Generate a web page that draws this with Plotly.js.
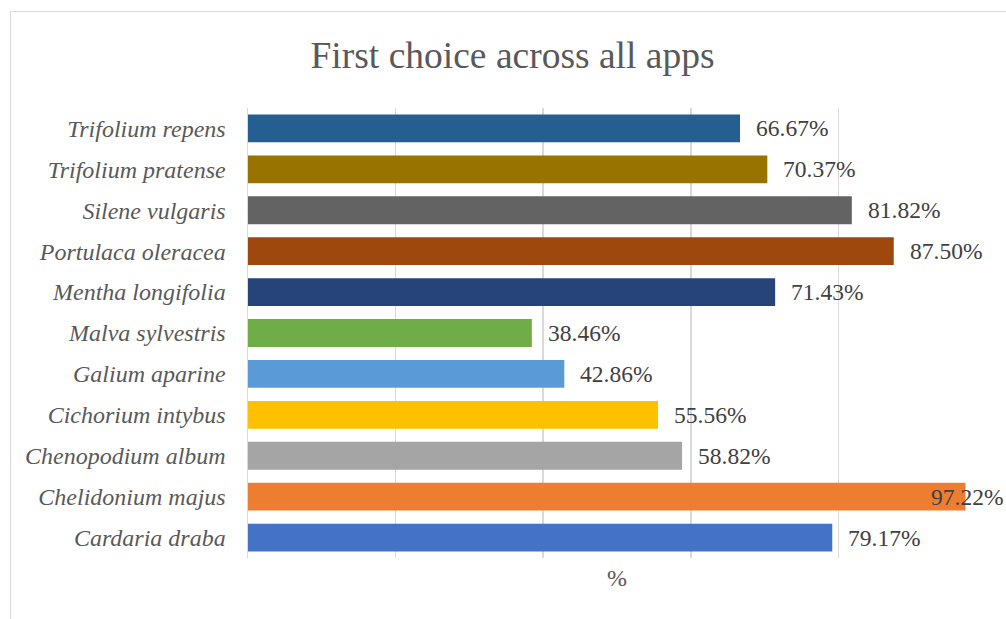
<!DOCTYPE html>
<html>
<head>
<meta charset="utf-8">
<script src="https://cdn.plot.ly/plotly-3.0.1.min.js"></script>
<style>
html,body{margin:0;padding:0;background:#fff;}
#wrap{position:relative;width:1006px;height:619px;overflow:hidden;}
#chart{width:1006px;height:619px;}
#border{position:absolute;left:10px;top:11px;width:1200px;height:800px;border:1.5px solid #d9d9d9;pointer-events:none;}
</style>
</head>
<body>
<div id="wrap"><div id="chart"></div><div id="border"></div></div>
<script>
const categories = ["Cardaria draba","Chelidonium majus","Chenopodium album","Cichorium intybus","Galium aparine","Malva sylvestris","Mentha longifolia","Portulaca oleracea","Silene vulgaris","Trifolium pratense","Trifolium repens"];
const values = [79.17, 97.22, 58.82, 55.56, 42.86, 38.46, 71.43, 87.50, 81.82, 70.37, 66.67];
const colors = ["#4472C4","#ED7D31","#A5A5A5","#FFC000","#5B9BD5","#70AD47","#264478","#9E480E","#636363","#997300","#255E91"];
const labels = values.map(v => v.toFixed(2) + "%");

const font = "Liberation Serif";
const trace = {
  type: "bar", orientation: "h",
  y: categories.map(c => "<i>" + c + "</i>"), x: values,
  marker: {color: colors},
  hoverinfo: "none"
};
const annotations = values.map((v, i) => {
  const fits = v < 90;
  return {
    x: v, y: "<i>" + categories[i] + "</i>", xref: "x", yref: "y",
    text: labels[i], showarrow: false,
    xanchor: fits ? "left" : "right", xshift: fits ? 14 : 40,
    font: {family: font, size: 23.5, color: "#404040"}
  };
});
const layout = {
  width: 1006, height: 619,
  margin: {l: 248, r: 20, t: 108, b: 61},
  paper_bgcolor: "#fff", plot_bgcolor: "#fff",
  bargap: 0.32,
  showlegend: false,
  title: {text: "First choice across all apps", font: {family: font, size: 37.5, color: "#595959"}, x: 0.5095, xanchor: "center", y: 0.911, yref: "container", yanchor: "middle"},
  xaxis: {range: [0, 100], dtick: 20, showticklabels: false, showgrid: true, gridcolor: "#d9d9d9", gridwidth: 1.5, zeroline: false, ticks: "",
    title: {text: "%", font: {family: font, size: 24, color: "#595959"}, standoff: 11}},
  yaxis: {showline: true, linecolor: "#d9d9d9", linewidth: 1.5, ticks: "", ticklabelstandoff: 16,
    tickfont: {family: font, size: 24, color: "#595959"}, showgrid: false, zeroline: false},
  annotations: annotations
};
Plotly.newPlot("chart", [trace], layout, {staticPlot: true});
</script>
</body>
</html>
